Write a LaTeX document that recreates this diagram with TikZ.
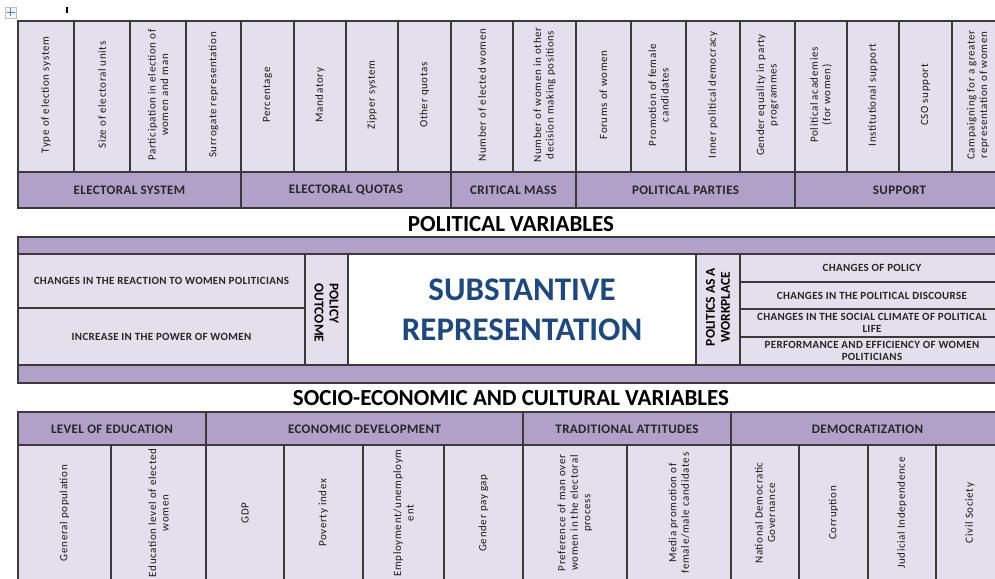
\documentclass[tikz,border=0pt]{standalone}
\usepackage{fontspec}
\setmainfont{Carlito}
\newfontfamily\cellfont[LetterSpace=6]{Carlito}
\newfontfamily\bandfont[LetterSpace=3]{Carlito}
\definecolor{band}{HTML}{B1A0C7}
\definecolor{cell}{HTML}{E4DFEC}
\definecolor{rule}{HTML}{3A3A3A}
\definecolor{subst}{HTML}{1F497D}
\definecolor{handle}{HTML}{4A7EC9}

\begin{document}
\begin{tikzpicture}[x=1pt, y=-1pt, line join=miter]
  \tikzset{bandcell/.style={fill=band, draw=rule, line width=1.1pt}, varcell/.style={fill=cell, draw=rule, line width=1.1pt}, whitecell/.style={fill=white, draw=rule, line width=1.1pt},
    vartext/.style={font=\cellfont\fontsize{11}{12.5}\selectfont, align=center, inner sep=0pt, rotate=90, text=black!90},
    bandtext/.style={font=\bandfont\bfseries\fontsize{13}{15}\selectfont, inner sep=0pt, text=black!85},
    rowtext/.style={font=\bandfont\bfseries\fontsize{11}{12.5}\selectfont, align=center, inner sep=0pt, text=black!85},
    sidetext/.style={font=\bfseries\fontsize{13.5}{15}\selectfont, inner sep=0pt},
    titletext/.style={font=\bfseries\fontsize{23}{26}\selectfont, inner sep=0pt}}
  \useasboundingbox (0,0) rectangle (995,578);
  \clip (0,0) rectangle (995,578);

  % table handle and cursor mark
  \draw[draw=black!25, fill=black!3, line width=.6pt] (5,7) rectangle (16,18);
  \draw[handle, line width=1.4pt] (10.5,8.5)--(10.5,16.5) (6.5,12.5)--(14.5,12.5);
  \fill[black] (66,7) rectangle (68,13);

  % political variables: indicator columns
  \foreach \l/\r/\txt [count=\i] in {18/74/{Type of election system}, 74/130/{Size of electoral units},
      130/186/{Participation in election of\\women and man}, 186/241/{Surrogate representation},
      241/294/{Percentage}, 294/346/{Mandatory}, 346/398/{Zipper system}, 398/451/{Other quotas},
      451/513/{Number of elected women}, 513/576/{Number of women in other\\decision making positions},
      576/631/{Forums of women}, 631/686/{Promotion of female\\candidates}, 686/740/{Inner political democracy},
      740/795/{Gender equality in party\\programmes}, 795/847/{Political academies\\(for women)},
      847/899/{Institutional support}, 899/952/{CSO support},
      952/1004/{Campaigning for a greater\\representation of women}} {
    \draw[varcell] (\l,21) rectangle (\r,172);
    \node[vartext] (pol-\i) at ({(\l+\r)/2},95) {\txt};
  }

  % political variables: groups
  \foreach \l/\r/\txt [count=\i] in {18/241/ELECTORAL SYSTEM, 241/451/ELECTORAL QUOTAS,
      451/576/CRITICAL MASS, 576/795/POLITICAL PARTIES, 795/1004/SUPPORT} {
    \draw[bandcell] (\l,172) rectangle (\r,208);
    \node[bandtext] (polgrp-\i) at ({(\l+\r)/2},190) {\txt};
  }
  \node[titletext] (poltitle) at (511,224) {POLITICAL VARIABLES};

  % substantive representation block
  \draw[bandcell] (18,237) rectangle (1004,254);
  \draw[varcell] (18,254) rectangle (305,308);
  \draw[varcell] (18,308) rectangle (305,365);
  \draw[varcell] (305,254) rectangle (348,365);
  \draw[whitecell] (348,254) rectangle (696,365);
  \draw[varcell] (696,254) rectangle (740,365);
  \node[rowtext] (reaction) at (161.5,281) {CHANGES IN THE REACTION TO WOMEN POLITICIANS};
  \node[rowtext] (power) at (161.5,336.5) {INCREASE IN THE POWER OF WOMEN};
  \node[sidetext, rotate=-90, align=left] (outcome) at (326.5,313) {POLICY\\OUTCOME};
  \node[font=\bfseries\fontsize{33}{40}\selectfont, text=subst, align=center, inner sep=0pt] (subrep) at (522,310) {SUBSTANTIVE\\REPRESENTATION};
  \node[sidetext, rotate=90, align=center] (workplace) at (718,307) {POLITICS AS A\\WORKPLACE};
  \foreach \t/\b/\txt [count=\i] in {254/282/{CHANGES OF POLICY}, 282/309/{CHANGES IN THE POLITICAL DISCOURSE},
      309/337/{CHANGES IN THE SOCIAL CLIMATE OF POLITICAL\\LIFE},
      337/365/{PERFORMANCE AND EFFICIENCY OF WOMEN\\POLITICIANS}} {
    \draw[varcell] (740,\t) rectangle (1004,\b);
    \node[rowtext] (change-\i) at (872,{(\t+\b)/2}) {\txt};
  }
  \draw[bandcell] (18,365) rectangle (1004,383);

  % socio-economic and cultural variables
  \node[titletext] (soctitle) at (511,398) {SOCIO-ECONOMIC AND CULTURAL VARIABLES};
  \foreach \l/\r/\txt [count=\i] in {18/206/LEVEL OF EDUCATION, 206/523/ECONOMIC DEVELOPMENT,
      523/731/TRADITIONAL ATTITUDES, 731/1004/DEMOCRATIZATION} {
    \draw[bandcell] (\l,412) rectangle (\r,445);
    \node[bandtext] (socgrp-\i) at ({(\l+\r)/2},429) {\txt};
  }
  \foreach \l/\r/\txt [count=\i] in {18/111/{General population}, 111/206/{Education level of elected\\women},
      206/284/{GDP}, 284/363/{Poverty index}, 363/444/{Employment/unemploym\\ent}, 444/523/{Gender pay gap},
      523/627/{Preference of man over\\women in the electoral\\process},
      627/731/{Media promotion of\\female/male candidates}, 731/799/{National Democratic\\Governance},
      799/868/{Corruption}, 868/936/{Judicial Independence}, 936/1004/{Civil Society}} {
    \draw[varcell] (\l,445) rectangle (\r,590);
    \node[vartext] (soc-\i) at ({(\l+\r)/2},513) {\txt};
  }
\end{tikzpicture}
\end{document}
